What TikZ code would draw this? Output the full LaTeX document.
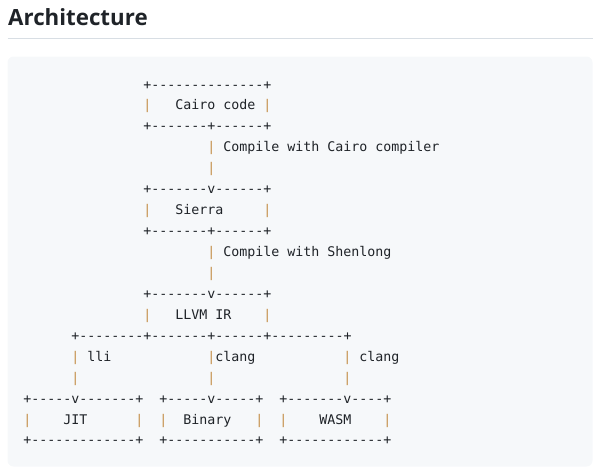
\documentclass[tikz,border=0pt]{standalone}
\usepackage{fontspec}
\setmonofont{DejaVu Sans Mono}
\newfontfamily\headfont{Open Sans}
\usepackage{tikz}
\usetikzlibrary{positioning}
\definecolor{codeBg}{HTML}{F6F8FA}
\definecolor{codeInk}{HTML}{1F2328}
\definecolor{pipeTan}{HTML}{C48F4A}
\definecolor{headInk}{HTML}{1F2328}
\definecolor{ruleGrey}{HTML}{D8DEE4}

\begin{document}
\begin{tikzpicture}[x=1pt, y=-1pt,
  ascii/.style={font=\ttfamily\fontsize{13.3}{16}\selectfont, text=codeInk, anchor=base west, inner sep=0pt, outer sep=0pt},
  pipe/.style={ascii, text=pipeTan}]
\useasboundingbox (0,0) rectangle (600,471);
\fill[codeBg, rounded corners=6pt] (7.5,56.5) rectangle (592.5,466.5);
\draw[ruleGrey, line width=1pt] (7.5,38.5) -- (592.5,38.5);
\node[anchor=base west, inner sep=0pt, text=headInk, font=\headfont\bfseries\fontsize{22.3}{28}\selectfont]
  (title) at (8,25.5) {Architecture};

% ascii pieces: row / column / text
\foreach \r/\c/\t in {
    1/15/{+--------------+},
    2/19/{Cairo code},
    3/15/{+-------+------+},
    4/25/{Compile with Cairo compiler},
    6/15/{+-------v------+},
    7/19/{Sierra},
    8/15/{+-------+------+},
    9/25/{Compile with Shenlong},
    11/15/{+-------v------+},
    12/19/{LLVM IR},
    13/6/{+--------+-------+------+---------+},
    14/8/{lli}, 14/24/{clang}, 14/42/{clang},
    16/0/{+-----v-------+}, 16/17/{+-----v-----+}, 16/32/{+-------v----+},
    17/5/{JIT}, 17/20/{Binary}, 17/37/{WASM},
    18/0/{+-------------+}, 18/17/{+-----------+}, 18/32/{+------------+}}
  \node[ascii] (seg-\r-\c) at ({23.3+8*\c},{89+20.94*(\r-1)}) {\t};

% the vertical bars
\foreach \r/\c in {2/15, 2/30, 4/23, 5/23, 7/15, 7/30, 9/23, 10/23, 12/15, 12/30,
    14/6, 14/23, 14/40, 15/6, 15/23, 15/40,
    17/0, 17/14, 17/17, 17/29, 17/32, 17/45}
  \node[pipe] (pipe-\r-\c) at ({23.3+8*\c},{89+20.94*(\r-1)}) {|};
\end{tikzpicture}
\end{document}
